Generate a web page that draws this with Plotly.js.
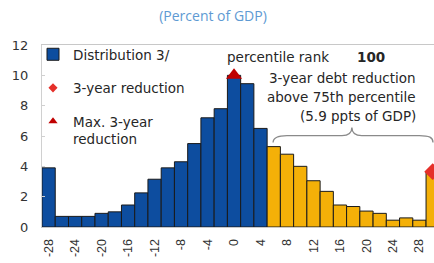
<!DOCTYPE html>
<html>
<head>
<meta charset="utf-8">
<script src="https://cdn.plot.ly/plotly-3.0.1.min.js"></script>
<style>html,body{margin:0;padding:0;background:#fff;}#chart{width:434px;height:263px;}</style>
</head>
<body>
<div id="chart"></div>
<script>
// Debt-change bins (ppts of GDP) and share of observations (percent)
const categories = [-28,-26,-24,-22,-20,-18,-16,-14,-12,-10,-8,-6,-4,-2,0,2,4,6,8,10,12,14,16,18,20,22,24,26,28,30];
const shares = [3.9,0.7,0.7,0.7,0.9,1.0,1.45,2.25,3.15,3.9,4.3,5.5,7.2,7.8,10.0,9.45,6.5,5.3,4.8,4.0,3.05,2.35,1.45,1.35,1.05,0.9,0.45,0.6,0.45,3.65];
const percentileCutoff = 5; // bins above this are above the 75th percentile
const reductionX = [30];
const reductionY = [3.65];
const maxReductionX = [0];
const maxReductionY = [10.0];
const tickVals = [-28,-24,-20,-16,-12,-8,-4,0,4,8,12,16,20,24,28];
const tickLabels = ["-28","-24","-20","-16","-12","-8","-4","0","4","8","12","16","20","24","28"];

const BLUE = "#0d4d9f", GOLD = "#f4b008";
const barColors = categories.map(c => c > percentileCutoff ? GOLD : BLUE);

const W = 434, H = 263, L = 42, T = 45, B = 36;
const pw = W - L, ph = H - T - B;
const px = x => (x - L) / pw;
const py = y => (H - B - y) / ph;

const font = "DejaVu Sans, Arial, sans-serif";

const traces = [
  {type: "bar", x: categories, y: shares, name: "Distribution 3/",
   marker: {color: barColors, line: {color: "#1a1a1a", width: 1}},
   legendgroup: "a", showlegend: true, hoverinfo: "x+y"},
  {type: "scatter", mode: "markers", x: reductionX, y: reductionY, showlegend: false,
   marker: {symbol: "diamond", size: 13, color: "#e5302a"}},
  {type: "scatter", mode: "markers", x: maxReductionX, y: maxReductionY, showlegend: false,
   marker: {symbol: "triangle-up", size: 14, color: "#c00000"}},
  {type: "scatter", mode: "markers", x: [null], y: [null], name: "3-year reduction", legendgroup: "b",
   marker: {symbol: "diamond", size: 7, color: "#e5302a"}},
  {type: "scatter", mode: "markers", x: [null], y: [null], name: "Max. 3-year<br>reduction", legendgroup: "c",
   marker: {symbol: "triangle-up", size: 8, color: "#c00000"}}
];

const ann = (text, x, y, xanchor, extra) => Object.assign({
  text, xref: "paper", yref: "paper", x: px(x), y: py(y), xanchor, yanchor: "middle",
  showarrow: false, font: {family: font, size: 13.5, color: "#262626"}
}, extra || {});

const layout = {
  width: W, height: H,
  margin: {l: L, r: 0, t: T, b: B, pad: 0},
  paper_bgcolor: "#fff", plot_bgcolor: "#fff",
  bargap: 0,
  title: {text: "(Percent of GDP)", x: 213 / W, xref: "container", xanchor: "center",
          y: 1 - 16 / H, yref: "container", yanchor: "middle",
          font: {family: "Open Sans, sans-serif", size: 14, color: "#5e9ad3"}},
  xaxis: {range: [-29, 30.2], tickvals: tickVals, ticktext: tickLabels, tickangle: -90,
          showgrid: false, zeroline: false, showline: true, mirror: true, linecolor: "#c8c8c8", linewidth: 1,
          ticks: "", ticklabelstandoff: 6,
          tickfont: {family: "Liberation Sans, Arial, sans-serif", size: 12.5, color: "#333"}},
  yaxis: {range: [0, 12], dtick: 2, showgrid: false, zeroline: false, showline: true,
          linecolor: "#d0d0d0", linewidth: 1, ticks: "inside", ticklen: 3, tickcolor: "#d0d0d0",
          ticklabelstandoff: 10,
          tickfont: {family: font, size: 13, color: "#333"}},
  showlegend: true,
  legend: {x: px(33), xanchor: "left", y: py(39), yanchor: "top", bgcolor: "rgba(0,0,0,0)",
           traceorder: "grouped", tracegroupgap: 13, valign: "top",
           font: {family: font, size: 13.5, color: "#262626"}},
  annotations: [
    ann("percentile rank", 225, 57, "left"),
    ann("<b>100</b>", 355, 57, "left"),
    ann("3-year debt reduction", 418, 78.3, "right"),
    ann("above 75th percentile", 418, 96.7, "right"),
    ann("(5.9 ppts of GDP)", 418, 116, "right")
  ],
  shapes: [{
    type: "path", xref: "x", yref: "y",
    path: "M 5.9,5.57 C 5.9,5.9 6.5,6.03 8,6.03 L 16.3,6.03 C 17.3,6.03 17.8,6.2 17.8,6.56 C 17.8,6.2 18.3,6.03 19.3,6.03 L 28,6.03 C 29.5,6.03 30.05,5.9 30.05,5.57",
    line: {color: "#8a8a8a", width: 1.3}
  }]
};

Plotly.newPlot("chart", traces, layout, {displayModeBar: false, staticPlot: true});
</script>
</body>
</html>
